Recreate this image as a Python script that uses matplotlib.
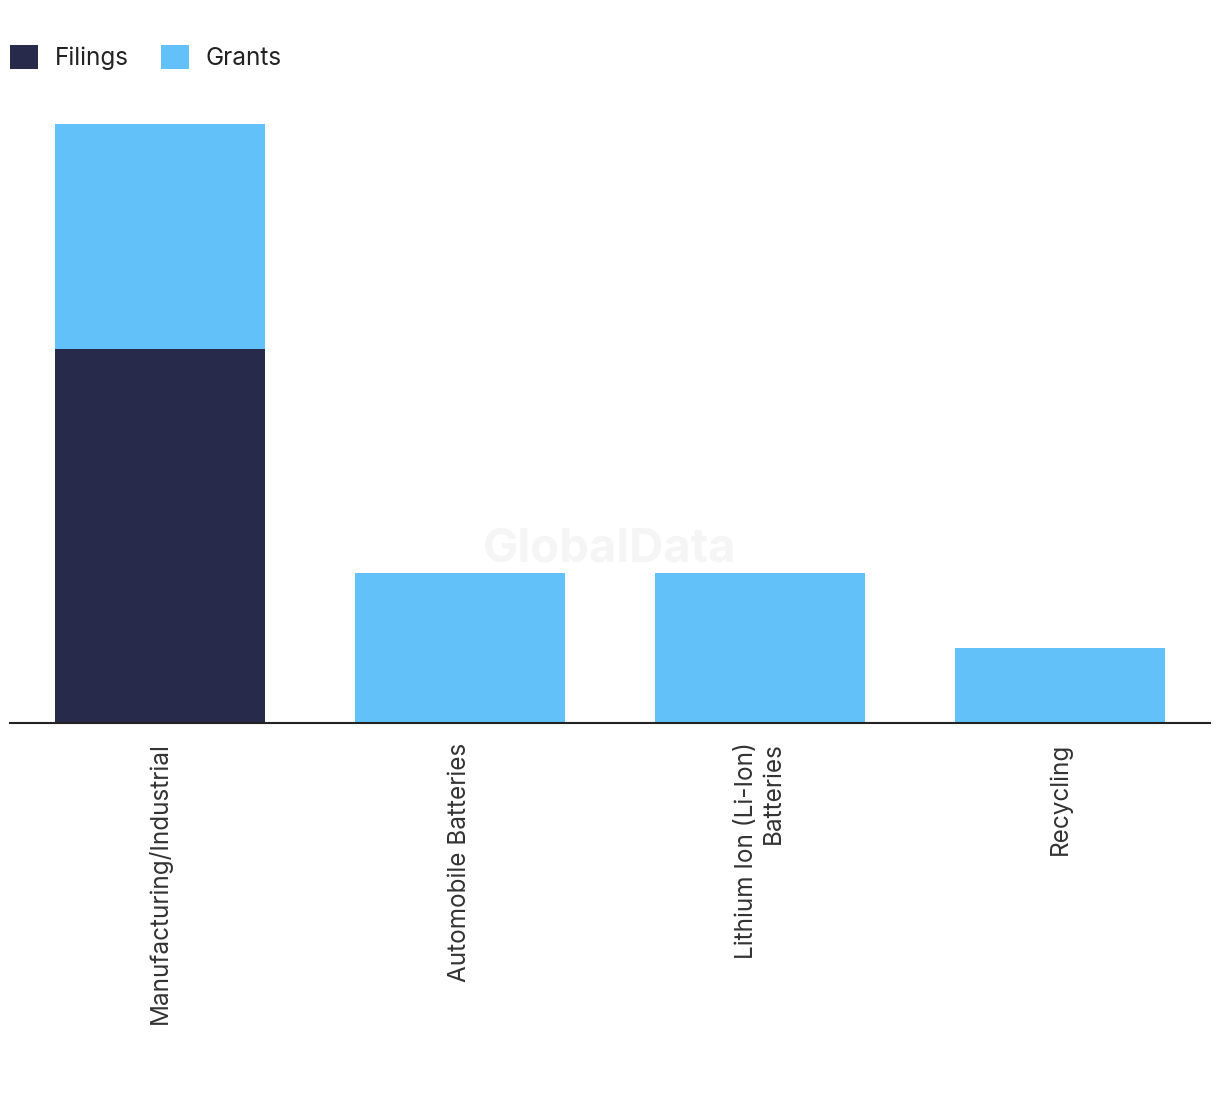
import matplotlib
matplotlib.use("Agg")
import matplotlib.pyplot as plt
import numpy as np

plt.rcParams['font.family'] = ['Inter', 'DejaVu Sans']

# data
categories = ["Manufacturing/Industrial", "Automobile Batteries",
              "Lithium Ion (Li-Ion)\nBatteries", "Recycling"]
filings = [5, 0, 0, 0]
grants = [3, 2, 2, 1]

navy = "#272A4B"
blue = "#62C1F9"

fig = plt.figure(figsize=(12.2, 10.94), dpi=100)
ax = fig.add_axes([10 / 1220, 1 - 723 / 1094, 1200 / 1220, 599 / 1094])

x = np.arange(len(categories))
ax.bar(x, filings, width=0.7, color=navy, label="Filings")
ax.bar(x, grants, width=0.7, bottom=filings, color=blue, label="Grants")

ax.set_xlim(-0.5, len(categories) - 0.5)
ax.set_ylim(0, 8)
ax.set_yticks([])
ax.set_xticks(x)
ax.set_xticklabels(categories, rotation=90, fontsize=17.5, color="#333333",
                   va="top", ha="center", multialignment="right")
ax.tick_params(axis="x", length=0, pad=14)
for s in ["top", "right", "left"]:
    ax.spines[s].set_visible(False)
ax.spines["bottom"].set_color("#222222")
ax.spines["bottom"].set_linewidth(1.5)

# watermark
ax.text(0.5, 0.29, "GlobalData", transform=ax.transAxes, fontsize=34,
        fontweight="bold", color="#f5f5f5", ha="center", va="center", zorder=0)

fig.legend(loc="upper left", bbox_to_anchor=(10 / 1220, 1 - 45 / 1094), ncol=2,
           frameon=False, fontsize=17.5, handlelength=1.15, handleheight=1.15,
           columnspacing=1.3, handletextpad=0.7, borderpad=0, borderaxespad=0,
           labelcolor="#222222")

fig.savefig("out.png", dpi=100, facecolor="white")
